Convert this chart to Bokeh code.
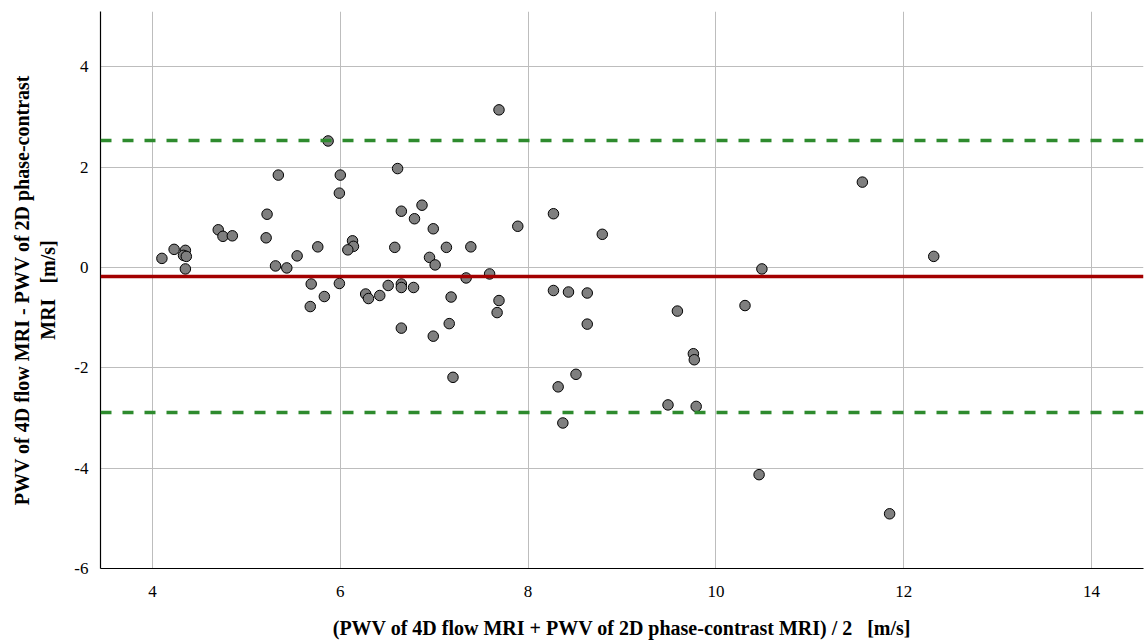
from bokeh.plotting import figure
from bokeh.models import Span, FixedTicker, ColumnDataSource
from bokeh.embed import file_html
from bokeh.resources import INLINE

# Bland-Altman data: mean of the two methods (x) and difference (y), in m/s
mean_pwv = [4.10, 4.23, 4.35, 4.33, 4.36, 4.35, 4.70, 4.75, 4.85, 5.22,
            5.21, 5.34, 5.31, 5.43, 5.54, 5.87, 5.76, 5.69, 5.83, 5.68,
            6.00, 5.99, 5.99, 6.13, 6.14, 6.08, 6.27, 6.30, 6.42, 6.51,
            6.61, 6.65, 6.58, 6.65, 6.65, 6.78, 6.79, 6.87, 6.99, 6.95,
            7.01, 7.13, 7.18, 7.34, 7.39, 7.59, 7.69, 7.89, 7.69, 7.67,
            6.65, 7.16, 6.99, 7.20, 8.27, 8.79, 8.27, 8.43, 8.63, 8.63,
            9.59, 10.31, 10.49, 9.76, 9.77, 8.32, 8.51, 9.49, 9.79, 8.37,
            11.56, 12.32, 10.46, 11.85]
diff_pwv = [0.18, 0.36, 0.34, 0.24, 0.22, -0.03, 0.75, 0.62, 0.63, 1.06,
            0.59, 1.84, 0.03, -0.01, 0.23, 2.52, 0.41, -0.33, -0.58, -0.78,
            1.84, 1.48, -0.32, 0.53, 0.42, 0.35, -0.53, -0.62, -0.56, -0.36,
            1.97, 1.12, 0.40, -0.33, -0.40, -0.40, 0.97, 1.24, 0.77, 0.20,
            0.05, 0.40, -0.59, -0.21, 0.41, -0.13, 3.14, 0.82, -0.66, -0.90,
            -1.21, -1.12, -1.37, -2.19, 1.07, 0.66, -0.46, -0.49, -0.51, -1.13,
            -0.87, -0.76, -0.03, -1.72, -1.84, -2.38, -2.13, -2.74, -2.77, -3.10,
            1.70, 0.22, -4.13, -4.91]

mean_diff = -0.18
upper_loa = 2.53
lower_loa = -2.89

x_ticks = [4, 6, 8, 10, 12, 14]
y_ticks = [-6, -4, -2, 0, 2, 4]
x_tick_labels = ["4", "6", "8", "10", "12", "14"]
y_tick_labels = ["-6", "-4", "-2", "0", "2", "4"]

FONT = "Liberation Serif"
TICK_FONT = "'Liberation Serif', 'Times New Roman', serif"
SP3 = "\u00a0\u00a0\u00a0"

p = figure(width=1147, height=641, output_backend="svg", toolbar_location=None,
           x_range=(3.446, 14.554), y_range=(-6.0, 5.1),
           min_border_left=100, min_border_right=4, min_border_top=11,
           min_border_bottom=0)
p.outline_line_color = None
p.background_fill_color = "white"
p.border_fill_color = "white"

for g in (p.xgrid[0], p.ygrid[0]):
    g.grid_line_color = "#BDBDBD"
    g.grid_line_width = 1
p.xgrid.ticker = FixedTicker(ticks=x_ticks)
p.ygrid.ticker = FixedTicker(ticks=y_ticks)

for ax, ticks, labels in ((p.xaxis[0], x_ticks, x_tick_labels),
                          (p.yaxis[0], y_ticks, y_tick_labels)):
    ax.ticker = FixedTicker(ticks=ticks)
    ax.major_label_overrides = dict(zip(ticks, labels))
    ax.major_tick_line_color = None
    ax.minor_tick_line_color = None
    ax.axis_line_color = "black"
    ax.axis_line_width = 1.2
    ax.major_label_text_font = TICK_FONT
    ax.major_label_text_font_size = "17px"
    ax.major_label_text_font_style = "normal"
    ax.major_label_text_color = "black"
    ax.axis_label_text_font = FONT
    ax.axis_label_text_font_size = "20px"
    ax.axis_label_text_font_style = "bold"
    ax.axis_label_text_color = "black"

p.xaxis.axis_label = "(PWV of 4D flow MRI + PWV of 2D phase-contrast MRI) / 2" + SP3 + "[m/s]"
p.yaxis.axis_label = "PWV of 4D flow MRI - PWV of 2D phase-contrast\nMRI" + SP3 + "[m/s]"
p.xaxis.major_label_standoff = 11
p.xaxis.axis_label_standoff = 17
p.yaxis.major_label_standoff = 6
p.yaxis.axis_label_standoff = 12

p.add_layout(Span(location=upper_loa, dimension="width", line_color="#2E8B2E",
                  line_width=3.5, line_dash="11 11"))
p.add_layout(Span(location=lower_loa, dimension="width", line_color="#2E8B2E",
                  line_width=3.5, line_dash="11 11"))
p.add_layout(Span(location=mean_diff, dimension="width", line_color="#A30000",
                  line_width=3.5))

src = ColumnDataSource(data=dict(x=mean_pwv, y=diff_pwv))
p.scatter("x", "y", source=src, size=10.5, fill_color="#7F7F7F",
          line_color="black", line_width=1)

open("out.html", "w").write(file_html(p, INLINE))
